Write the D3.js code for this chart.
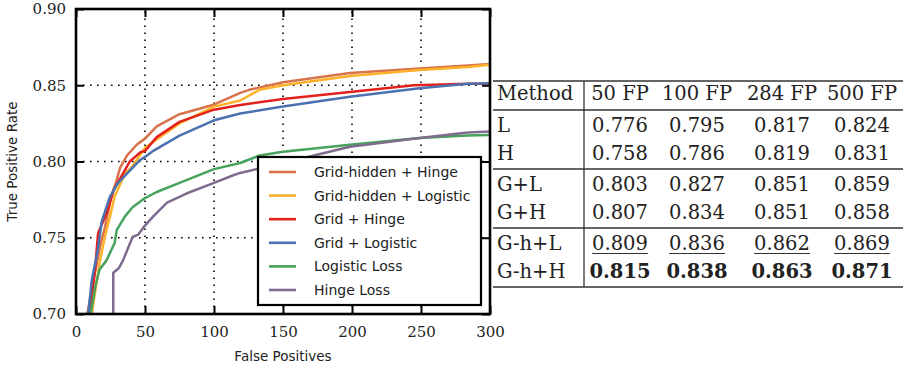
<!DOCTYPE html>
<html>
<head>
<meta charset="utf-8">
<script src="https://cdn.jsdelivr.net/npm/d3@7"></script>
<style>
  body { margin: 0; background: #fff; }
  svg { display: block; }
</style>
</head>
<body>
<div id="chart"></div>
<script>
// ---- data ----
var seriesNames = ['Grid-hidden + Hinge', 'Grid-hidden + Logistic', 'Grid + Hinge', 'Grid + Logistic', 'Logistic Loss', 'Hinge Loss'];
var seriesColors = ['#d9734c', '#fdb22a', '#e3211c', '#4a72b0', '#47a35c', '#7f6c8d'];

var gridHiddenHingeFP  = [8.2, 11.4, 15, 17.4, 21, 24.6, 29.5, 32, 37, 44, 50, 58.5, 75, 99, 119, 125.6, 150, 198.5, 249, 284, 300];
var gridHiddenHingeTPR = [0.700, 0.716, 0.733, 0.744, 0.757, 0.773, 0.788, 0.796, 0.804, 0.811, 0.815, 0.823, 0.831, 0.837, 0.845, 0.847, 0.852, 0.858, 0.861, 0.863, 0.864];

var gridHiddenLogFP  = [11.4, 13.8, 17.4, 21, 24.6, 28, 35.5, 41, 50, 61, 75, 100, 119, 133, 150, 198.5, 249, 284, 300];
var gridHiddenLogTPR = [0.700, 0.714, 0.735, 0.751, 0.764, 0.777, 0.792, 0.797, 0.809, 0.816, 0.825, 0.836, 0.840, 0.847, 0.850, 0.856, 0.860, 0.862, 0.8635];

var gridHingeFP  = [10, 13.8, 16, 23, 27, 34, 39, 46.5, 50, 58.5, 75, 100, 119, 150, 198.5, 245, 284, 300];
var gridHingeTPR = [0.700, 0.729, 0.753, 0.768, 0.781, 0.792, 0.800, 0.806, 0.807, 0.816, 0.826, 0.834, 0.837, 0.841, 0.8455, 0.850, 0.851, 0.851];

var gridLogFP  = [8.9, 11.4, 16, 18.6, 24.6, 30.5, 39, 46.5, 50, 56, 75, 100, 119, 150, 198.5, 249, 284, 300];
var gridLogTPR = [0.700, 0.722, 0.743, 0.7605, 0.777, 0.786, 0.794, 0.801, 0.803, 0.807, 0.817, 0.827, 0.8315, 0.836, 0.8425, 0.848, 0.851, 0.8513];

var logisticFP  = [10.6, 14, 17, 22, 28, 29.5, 35.5, 41, 50, 58.5, 75, 100, 119, 133, 150, 198.5, 249, 284, 300];
var logisticTPR = [0.700, 0.718, 0.729, 0.735, 0.7465, 0.755, 0.764, 0.770, 0.776, 0.780, 0.786, 0.795, 0.799, 0.804, 0.8064, 0.811, 0.8154, 0.817, 0.8174];

var hingeFP  = [27, 27, 31, 34, 41, 45, 50, 56, 66, 80, 100, 114, 119, 150, 198.5, 249, 284, 300];
var hingeTPR = [0.700, 0.727, 0.730, 0.735, 0.7505, 0.752, 0.758, 0.764, 0.773, 0.779, 0.786, 0.791, 0.7925, 0.799, 0.8097, 0.8154, 0.819, 0.8196];

var xTicks = [0, 50, 100, 150, 200, 250, 300];
var yTicks = [0.70, 0.75, 0.80, 0.85, 0.90];

var tableHeader = ['Method', '50 FP', '100 FP', '284 FP', '500 FP'];
var tableMethods = ['L', 'H', 'G+L', 'G+H', 'G-h+L', 'G-h+H'];
var tableValues = [
    ['0.776', '0.795', '0.817', '0.824'],
    ['0.758', '0.786', '0.819', '0.831'],
    ['0.803', '0.827', '0.851', '0.859'],
    ['0.807', '0.834', '0.851', '0.858'],
    ['0.809', '0.836', '0.862', '0.869'],
    ['0.815', '0.838', '0.863', '0.871']
];

// ---- chart ----
var W = 909, H = 368;
var margins = { left: 76, right: 419, top: 9, bottom: 54 };

var svg = d3.select('#chart').append('svg').attr('width', W).attr('height', H);

var x = d3.scaleLinear().domain([0, 300]).range([margins.left, W - margins.right]);
var y = d3.scaleLinear().domain([0.70, 0.90]).range([H - margins.bottom, margins.top]);

var serifFont = 'DejaVu Serif', sansFont = 'DejaVu Sans';

// grid
var grid = svg.append('g').attr('stroke', '#000').attr('stroke-width', 1.6).attr('stroke-dasharray', '1.6,5.4');
grid.selectAll('.gx').data(xTicks.slice(1, -1)).enter().append('line')
    .attr('x1', function(d){ return x(d); }).attr('x2', function(d){ return x(d); })
    .attr('y1', y(0.70)).attr('y2', y(0.90));
grid.selectAll('.gy').data(yTicks.slice(1, -1)).enter().append('line')
    .attr('x1', x(0)).attr('x2', x(300))
    .attr('y1', function(d){ return y(d); }).attr('y2', function(d){ return y(d); });

// axes with inward ticks on all sides
var tickLen = 8;
svg.append('g').attr('transform', 'translate(0,' + y(0.70) + ')')
    .call(d3.axisBottom(x).tickValues(xTicks).tickSizeInner(-tickLen).tickSizeOuter(0).tickPadding(12).tickFormat(d3.format('d')));
svg.append('g').attr('transform', 'translate(0,' + y(0.90) + ')')
    .call(d3.axisTop(x).tickValues(xTicks).tickSizeInner(-tickLen).tickSizeOuter(0).tickFormat(''));
svg.append('g').attr('transform', 'translate(' + x(0) + ',0)')
    .call(d3.axisLeft(y).tickValues(yTicks).tickSizeInner(-tickLen).tickSizeOuter(0).tickPadding(10).tickFormat(d3.format('.2f')));
svg.append('g').attr('transform', 'translate(' + x(300) + ',0)')
    .call(d3.axisRight(y).tickValues(yTicks).tickSizeInner(-tickLen).tickSizeOuter(0).tickFormat(''));

svg.selectAll('.domain').remove();
svg.selectAll('.tick line').attr('stroke', '#000').attr('stroke-width', 2);
svg.selectAll('.tick text').attr('font-family', serifFont).attr('font-size', 15).attr('fill', '#222');

// curves
var series = [
    [gridHiddenHingeFP, gridHiddenHingeTPR],
    [gridHiddenLogFP, gridHiddenLogTPR],
    [gridHingeFP, gridHingeTPR],
    [gridLogFP, gridLogTPR],
    [logisticFP, logisticTPR],
    [hingeFP, hingeTPR]
];
var line = d3.line()
    .x(function(d){ return x(d[0]); })
    .y(function(d){ return y(d[1]); });

svg.append('defs').append('clipPath').attr('id', 'plotclip').append('rect')
    .attr('x', x(0)).attr('y', y(0.90)).attr('width', x(300) - x(0)).attr('height', y(0.70) - y(0.90));

svg.append('g').attr('clip-path', 'url(#plotclip)')
    .selectAll('path').data(series).enter().append('path')
    .attr('d', function(s){ return line(d3.zip(s[0], s[1])); })
    .attr('fill', 'none')
    .attr('stroke', function(s, i){ return seriesColors[i]; })
    .attr('stroke-width', 2.5)
    .attr('stroke-linejoin', 'round');

// frame
svg.append('rect')
    .attr('x', x(0)).attr('y', y(0.90))
    .attr('width', x(300) - x(0)).attr('height', y(0.70) - y(0.90))
    .attr('fill', 'none').attr('stroke', '#000').attr('stroke-width', 2.6);

// axis titles
svg.append('text').text('False Positives')
    .attr('x', (x(0) + x(300)) / 2).attr('y', 361)
    .attr('text-anchor', 'middle').attr('font-family', sansFont).attr('font-size', 13.5).attr('fill', '#222');
svg.append('text').text('True Positive Rate')
    .attr('transform', 'translate(17,' + ((y(0.70) + y(0.90)) / 2) + ') rotate(-90)')
    .attr('text-anchor', 'middle').attr('font-family', sansFont).attr('font-size', 13.5).attr('fill', '#222');

// legend
var legend = svg.append('g').attr('transform', 'translate(258,157)');
legend.append('rect').attr('width', 223).attr('height', 148)
    .attr('fill', '#fff').attr('stroke', '#000').attr('stroke-width', 2.2);
var items = legend.selectAll('.item').data(seriesNames).enter().append('g')
    .attr('transform', function(d, i){ return 'translate(0,' + (15 + i * 23.6) + ')'; });
items.append('line').attr('x1', 11).attr('x2', 38)
    .attr('stroke', function(d, i){ return seriesColors[i]; }).attr('stroke-width', 2.6);
items.append('text').text(function(d){ return d; })
    .attr('x', 56).attr('y', 5)
    .attr('font-family', sansFont).attr('font-size', 14).attr('fill', '#222');

// ---- table ----
var table = svg.append('g');
var tLeft = 493, tRight = 903, sepX = 584;
var colX = [620, 697, 782, 862];
var headerBase = 100;
var rowBase = [132, 160, 191, 219, 250, 278];
var hLines = [81, 110, 169, 228, 287];
var tFont = 19.5;

table.selectAll('.hl').data(hLines).enter().append('line')
    .attr('x1', tLeft).attr('x2', tRight)
    .attr('y1', function(d){ return d; }).attr('y2', function(d){ return d; })
    .attr('stroke', function(d, i){ return i === hLines.length - 1 ? '#666' : '#333'; })
    .attr('stroke-width', function(d, i){ return i === hLines.length - 1 ? 2 : 1.3; });
table.append('line').attr('x1', sepX).attr('x2', sepX).attr('y1', hLines[0]).attr('y2', hLines[hLines.length - 1])
    .attr('stroke', '#333').attr('stroke-width', 1.3);

table.selectAll('.hd').data(tableHeader).enter().append('text')
    .text(function(d){ return d; })
    .attr('x', function(d, i){ return i === 0 ? 497 : colX[i - 1]; })
    .attr('y', headerBase)
    .attr('text-anchor', function(d, i){ return i === 0 ? 'start' : 'middle'; })
    .attr('font-family', serifFont).attr('font-size', tFont).attr('fill', '#222');

var rows = table.selectAll('.row').data(tableValues).enter().append('g');
rows.append('text').text(function(d, i){ return tableMethods[i]; })
    .attr('x', 497).attr('y', function(d, i){ return rowBase[i]; })
    .attr('font-family', serifFont).attr('font-size', tFont).attr('fill', '#222');

rows.each(function(vals, r) {
    var g = d3.select(this);
    vals.forEach(function(v, c) {
        var t = g.append('text').text(v)
            .attr('x', colX[c]).attr('y', rowBase[r])
            .attr('text-anchor', 'middle')
            .attr('font-family', serifFont).attr('font-size', tFont).attr('fill', '#222')
            .attr('font-weight', r === 5 ? 'bold' : 'normal');
        if (r === 4) {
            var w = t.node().getComputedTextLength();
            g.append('line').attr('x1', colX[c] - w / 2).attr('x2', colX[c] + w / 2)
                .attr('y1', rowBase[r] + 3.5).attr('y2', rowBase[r] + 3.5)
                .attr('stroke', '#333').attr('stroke-width', 1.1);
        }
    });
});
</script>
</body>
</html>
